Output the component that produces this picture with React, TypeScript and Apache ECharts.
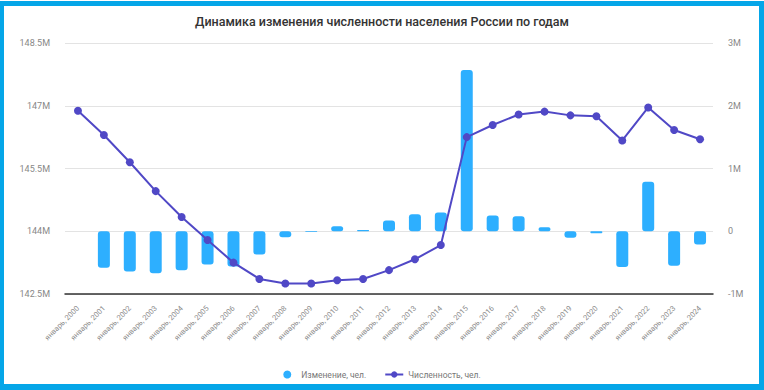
import React, { useEffect, useRef } from "react";
import * as echarts from "echarts";

const years: string[] = [
  "2000", "2001", "2002", "2003", "2004", "2005", "2006", "2007", "2008", "2009",
  "2010", "2011", "2012", "2013", "2014", "2015", "2016", "2017", "2018", "2019",
  "2020", "2021", "2022", "2023", "2024",
];
const categories: string[] = years.map((y) => "январь, " + y);

// population, millions (left axis)
const population: number[] = [
  146.88, 146.30, 145.65, 144.96, 144.34, 143.79, 143.25, 142.86, 142.75, 142.75,
  142.83, 142.86, 143.07, 143.33, 143.67, 146.25, 146.54, 146.79, 146.86, 146.77,
  146.75, 146.17, 146.96, 146.42, 146.20,
];
// yearly change, millions (right axis)
const change: (number | null)[] = [
  null, -0.58, -0.64, -0.67, -0.62, -0.53, -0.56, -0.37, -0.095, -0.01,
  0.08, 0.02, 0.17, 0.27, 0.30, 2.57, 0.25, 0.24, 0.065, -0.105,
  -0.03, -0.57, 0.79, -0.55, -0.21,
];

const titleText = "Динамика изменения численности населения России по годам";
const barName = "Изменение, чел.";
const lineName = "Численность, чел.";

const fmtM = (v: number) => {
  if (v === 0) return "0";
  const m = Math.round((v / 1e6) * 10) / 10;
  return m + "M";
};

export default function App() {
  const ref = useRef<HTMLDivElement>(null);
  useEffect(() => {
    if (!ref.current) return;
    const chart = echarts.init(ref.current, null, { renderer: "svg" });
    chart.setOption({
      animation: false,
      backgroundColor: "#ffffff",
      title: {
        text: titleText,
        left: "center",
        top: 10,
        textStyle: {
          fontFamily: "Roboto, Arial, sans-serif",
          fontSize: 12.5,
          fontWeight: 500,
          color: "#333333",
        },
      },
      legend: {
        bottom: 6,
        left: "center",
        itemGap: 18,
        itemWidth: 18,
        itemHeight: 8,
        textStyle: { fontFamily: "Roboto, Arial, sans-serif", fontSize: 8.5, color: "#777777" },
        data: [{ name: barName, icon: "circle" }, { name: lineName }],
      },
      grid: { left: 65, right: 51, top: 43, bottom: 96 },
      xAxis: {
        type: "category",
        data: categories,
        axisLine: { onZero: false, lineStyle: { color: "#333333", width: 1.5 } },
        axisTick: { show: false },
        axisLabel: {
          rotate: 45,
          interval: 0,
          fontSize: 7.5,
          color: "#8a8a8a",
          margin: 13,
          fontFamily: "Roboto, Arial, sans-serif",
        },
      },
      yAxis: [
        {
          type: "value",
          min: 142.5e6,
          max: 148.5e6,
          interval: 1.5e6,
          position: "left",
          axisLine: { show: false },
          axisTick: { show: false },
          splitLine: { lineStyle: { color: "#e3e3e3" } },
          axisLabel: {
            formatter: fmtM,
            fontSize: 9,
            color: "#888888",
            margin: 15,
            fontFamily: "Roboto, Arial, sans-serif",
          },
        },
        {
          type: "value",
          min: -1e6,
          max: 3e6,
          interval: 1e6,
          position: "right",
          axisLine: { show: false },
          axisTick: { show: false },
          splitLine: { show: false },
          axisLabel: {
            formatter: fmtM,
            fontSize: 9,
            color: "#888888",
            margin: 15,
            fontFamily: "Roboto, Arial, sans-serif",
          },
        },
      ],
      series: [
        {
          name: barName,
          type: "bar",
          yAxisIndex: 1,
          barWidth: 12,
          itemStyle: { color: "#2DAFFF", borderRadius: 3 },
          data: change.map((v) => (v === null ? null : v * 1e6)),
          z: 2,
        },
        {
          name: lineName,
          type: "line",
          yAxisIndex: 0,
          symbol: "circle",
          symbolSize: 8,
          lineStyle: { color: "#5048C6", width: 2 },
          itemStyle: { color: "#5048C6" },
          data: population.map((v) => v * 1e6),
          z: 3,
        },
      ],
    });
    return () => chart.dispose();
  }, []);
  return (
    <div style={{ position: "fixed", left: 0, top: 0, width: 764, height: 390, background: "#fff" }}>
      <div ref={ref} style={{ position: "absolute", left: 0, top: 0, width: 764, height: 390 }} />
      <div
        style={{
          position: "absolute",
          left: 0,
          top: 1,
          width: 764,
          height: 389,
          boxSizing: "border-box",
          borderStyle: "solid",
          borderColor: "#05A6E8",
          borderTopWidth: 5,
          borderLeftWidth: 4,
          borderRightWidth: 5,
          borderBottomWidth: 6,
          pointerEvents: "none",
        }}
      />
    </div>
  );
}
